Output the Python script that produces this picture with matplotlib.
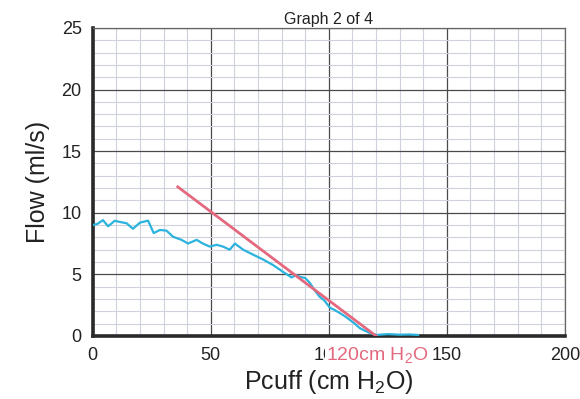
import matplotlib
matplotlib.use("Agg")
import matplotlib.pyplot as plt
from matplotlib.ticker import MultipleLocator

plt.rcParams["font.family"] = ["Liberation Sans", "DejaVu Sans"]
plt.rcParams["mathtext.fontset"] = "custom"
plt.rcParams["mathtext.rm"] = "Liberation Sans"
plt.rcParams["mathtext.it"] = "Liberation Sans"

# measured flow trace (Pcuff, flow)
pcuff = [0, 2, 4.3, 6.5, 9.3, 11.5, 14.3, 17, 20, 23.4, 25.8, 28.4, 31.2, 34,
         37.6, 40.3, 44, 46.6, 49.6, 52.4, 55.2, 58, 60.2, 63.7, 67.9, 72.2,
         76.4, 80.6, 84.2, 86, 87.7, 90, 92, 94, 96, 98, 100.4, 102.5, 104.7,
         106.8, 108.9, 111, 113, 115, 117.4, 120.2, 125, 130, 134, 137.8]
flow = [9.0, 9.1, 9.4, 8.9, 9.35, 9.25, 9.15, 8.7, 9.2, 9.36, 8.35, 8.6, 8.55,
        8.05, 7.8, 7.5, 7.8, 7.5, 7.25, 7.4, 7.25, 7.0, 7.5, 7.0, 6.6, 6.2,
        5.75, 5.2, 4.75, 4.95, 4.8, 4.7, 4.3, 3.7, 3.2, 2.9, 2.3, 2.1, 1.85,
        1.6, 1.3, 1.0, 0.65, 0.45, 0.24, 0.08, 0.15, 0.1, 0.12, 0.08]

# fitted line
fit_x = [36, 120]
fit_y = [12.1, 0]

BLUE = "#2bb3de"
PINK = "#e4697e"

fig = plt.figure(figsize=(5.8, 3.99), dpi=100)
ax = fig.add_axes([0.160, 0.158, 0.814, 0.772])
ax.set_xlim(0, 200)
ax.set_ylim(0, 25)

ax.xaxis.set_major_locator(MultipleLocator(50))
ax.xaxis.set_minor_locator(MultipleLocator(10))
ax.yaxis.set_major_locator(MultipleLocator(5))
ax.yaxis.set_minor_locator(MultipleLocator(1))
ax.grid(which="minor", color="#cdd2dc", linewidth=0.8)
ax.grid(which="major", color="#4a4a4a", linewidth=0.9)
ax.set_axisbelow(True)
ax.tick_params(which="both", length=0, labelsize=13, colors="#222222", pad=8)

for side in ("top", "right"):
    ax.spines[side].set_color("#666666")
    ax.spines[side].set_linewidth(0.9)
for side in ("left", "bottom"):
    ax.spines[side].set_color("#2a2a2a")
    ax.spines[side].set_linewidth(2.6)

ax.plot(pcuff, flow, color=BLUE, linewidth=1.6, zorder=3)
ax.plot(fit_x, fit_y, color=PINK, linewidth=2.0, zorder=4)

ax.set_xlabel("Pcuff (cm H$_2$O)", fontsize=18, color="#222222", labelpad=3)
ax.set_ylabel("Flow (ml/s)", fontsize=18, color="#222222", labelpad=8)
ax.set_title("Graph 2 of 4", fontsize=11.5, color="#222222", pad=3)

ax.annotate("120cm H$_2$O", xy=(120, 0), xycoords="data",
            xytext=(1, -13.5), textcoords="offset points",
            ha="center", va="center", fontsize=14, color=PINK,
            bbox=dict(facecolor="white", edgecolor="none", pad=0.5),
            annotation_clip=False, zorder=10)

fig.savefig("out.png", dpi=100)
